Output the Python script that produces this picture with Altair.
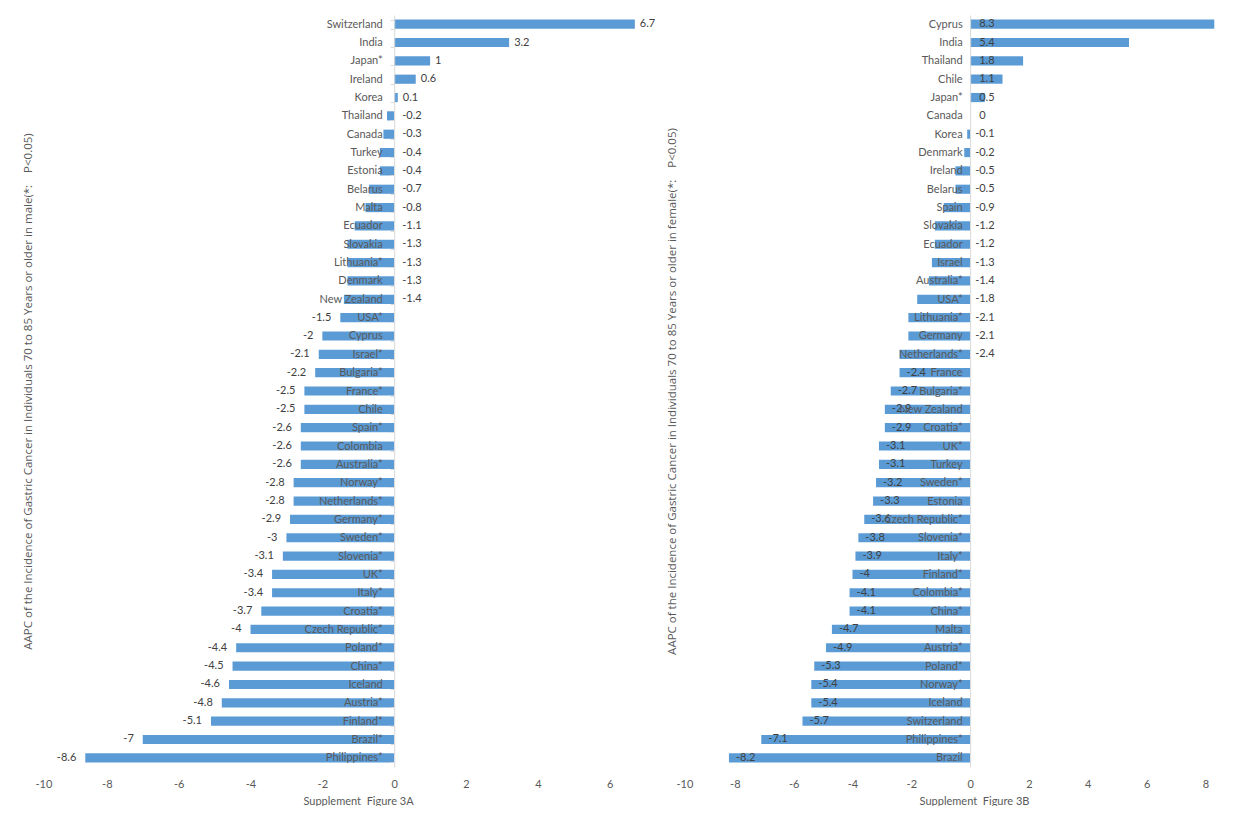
import altair as alt
import pandas as pd

male_countries = ["Switzerland", "India", "Japan*", "Ireland", "Korea", "Thailand", "Canada", "Turkey",
                  "Estonia", "Belarus", "Malta", "Ecuador", "Slovakia", "Lithuania*", "Denmark",
                  "New Zealand", "USA*", "Cyprus", "Israel*", "Bulgaria*", "France*", "Chile", "Spain*",
                  "Colombia", "Australia*", "Norway*", "Netherlands*", "Germany*", "Sweden*", "Slovenia*",
                  "UK*", "Italy*", "Croatia*", "Czech Republic*", "Poland*", "China*", "Iceland",
                  "Austria*", "Finland*", "Brazil*", "Philippines*"]
male_values = [6.7, 3.2, 1, 0.6, 0.1, -0.2, -0.3, -0.4, -0.4, -0.7, -0.8, -1.1, -1.3, -1.3, -1.3,
               -1.4, -1.5, -2, -2.1, -2.2, -2.5, -2.5, -2.6, -2.6, -2.6, -2.8, -2.8, -2.9, -3, -3.1,
               -3.4, -3.4, -3.7, -4, -4.4, -4.5, -4.6, -4.8, -5.1, -7, -8.6]

female_countries = ["Cyprus", "India", "Thailand", "Chile", "Japan*", "Canada", "Korea", "Denmark",
                    "Ireland", "Belarus", "Spain", "Slovakia", "Ecuador", "Israel", "Australia*", "USA*",
                    "Lithuania*", "Germany", "Netherlands*", "France", "Bulgaria*", "New Zealand",
                    "Croatia*", "UK*", "Turkey", "Sweden*", "Estonia", "Czech Republic*", "Slovenia*",
                    "Italy*", "Finland*", "Colombia*", "China*", "Malta", "Austria*", "Poland*",
                    "Norway*", "Iceland", "Switzerland", "Philippines*", "Brazil"]
female_values = [8.3, 5.4, 1.8, 1.1, 0.5, 0, -0.1, -0.2, -0.5, -0.5, -0.9, -1.2, -1.2, -1.3, -1.4,
                 -1.8, -2.1, -2.1, -2.4, -2.4, -2.7, -2.9, -2.9, -3.1, -3.1, -3.2, -3.3, -3.6, -3.8,
                 -3.9, -4, -4.1, -4.1, -4.7, -4.9, -5.3, -5.4, -5.4, -5.7, -7.1, -8.2]

NB = "\u00a0"
male_title = ("AAPC of the Incidence of Gastric Cancer in Individuals 70 to 85 Years or older in male(*:"
              + NB * 4 + "P<0.05)")
female_title = ("AAPC of the Incidence of Gastric Cancer in Individuals 70 to 85 Years or older in female(*:"
                + NB * 4 + "P<0.05)")
male_xtitle = "Supplement" + NB * 2 + "Figure 3A"
female_xtitle = "Supplement" + NB * 2 + "Figure 3B"

FONT = "Lato"
TFONT = "Open Sans"
TXT = "#595959"
BAR = "#5B9BD5"
H = 752


def panel(countries, values, dmin, dmax, width, ticks, ytitle, xtitle, ytitle_x, xtitle_x,
          tick_size, label_rule):
    df = pd.DataFrame({"country": countries, "value": values, "idx": list(range(len(values)))})
    ppu = width / (dmax - dmin)
    zero_off = -ppu * (0 - dmin)
    xs = alt.Scale(domain=[dmin, dmax], nice=False, zero=False)
    ys = alt.Scale(paddingInner=0.5, paddingOuter=0.25)
    base = alt.Chart(df).transform_calculate(lab="'' + datum.value", zero="0")
    bars = base.mark_bar(color=BAR).encode(
        x=alt.X("value:Q", scale=xs, axis=alt.Axis(
            values=ticks, grid=False, domain=False, ticks=False, labelPadding=11,
            labelExpr="'' + datum.value", labelFont=FONT, labelFontSize=11, labelColor=TXT,
            title=xtitle, titleFont=FONT, titleFontSize=11, titleFontWeight="normal",
            titleColor=TXT, titlePadding=6, titleX=xtitle_x)),
        y=alt.Y("country:N", sort=countries, scale=ys, axis=alt.Axis(
            offset=zero_off, zindex=1, labelFont=FONT, labelFontSize=11, labelColor=TXT,
            labelPadding=8, tickSize=tick_size, tickColor="#d9d9d9", tickBand="extent",
            domainColor="#d9d9d9", title=ytitle, titleFont=TFONT, titleFontSize=11.5,
            titleFontWeight="normal", titleColor=TXT, titleX=ytitle_x)),
    )
    layers = [bars]
    for filt, xfield, align, dx in label_rule:
        layers.append(
            base.transform_filter(filt).mark_text(
                align=align, baseline="middle", dx=dx, font=FONT, fontSize=11, color="#404040"
            ).encode(
                x=alt.X(xfield, scale=xs),
                y=alt.Y("country:N", sort=countries, scale=ys),
                text="lab:N",
            )
        )
    return alt.layer(*layers).properties(width=width, height=H)


left_rules = [
    ("datum.value >= 0", "value:Q", "left", 5),
    ("datum.value < 0 && datum.value > -1.45", "zero:Q", "left", 8),
    ("datum.value <= -1.45", "value:Q", "right", -9),
]
right_rules = [
    ("datum.value >= 0", "zero:Q", "left", 9),
    ("datum.value < 0 && datum.idx <= 18", "zero:Q", "left", 5),
    ("datum.idx > 18", "value:Q", "left", 7),
]

left = panel(male_countries, male_values, -10, 7.4, 625, list(range(-10, 7, 2)),
             male_title, male_xtitle, -361, 323, 4, left_rules)
right = panel(female_countries, female_values, -10, 8.8, 553, list(range(-10, 9, 2)),
              female_title, female_xtitle, -293, 298, 0, right_rules)

chart = alt.hconcat(left, right, spacing=6).properties(
    padding={"left": 14, "top": 1, "right": 0, "bottom": 0},
    background="white",
).configure_view(strokeWidth=0)

chart.save("out.html", embed_options={"renderer": "svg", "actions": False})
